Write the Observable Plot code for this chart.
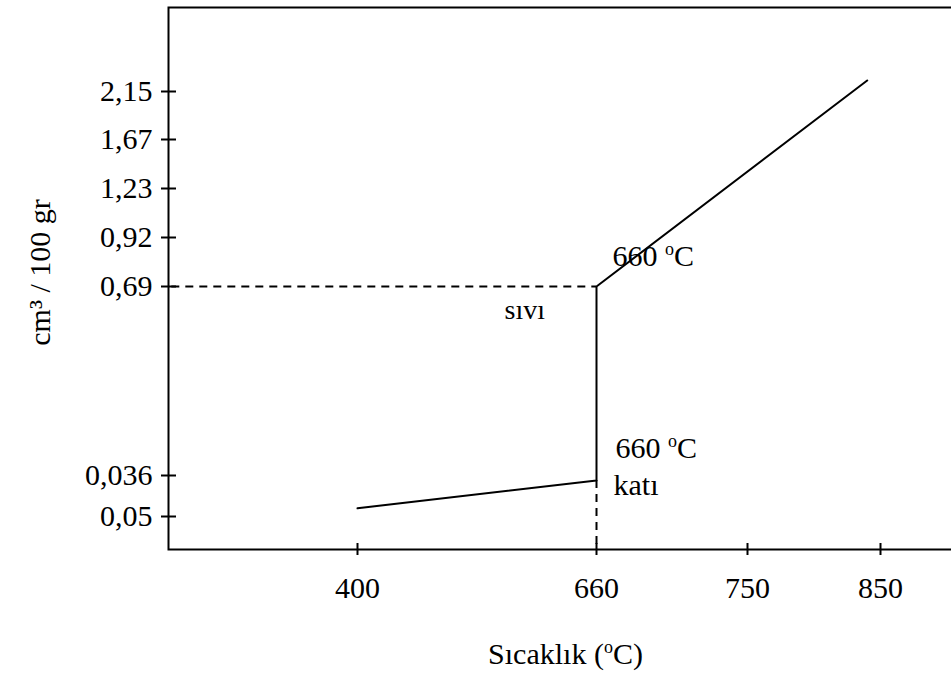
<!DOCTYPE html>
<html>
<head>
<meta charset="utf-8">
<script src="https://cdn.jsdelivr.net/npm/d3@7"></script>
<script src="https://cdn.jsdelivr.net/npm/@observablehq/plot@0.6"></script>
<style>
  html, body { margin: 0; padding: 0; background: #fff; overflow: hidden; }
</style>
</head>
<body>
<div id="chart"></div>
<script>
// ---- data ----
const xTicks = [400, 660, 750, 850];                       // Sıcaklık (°C)
const yTickLabels = ["0,05", "0,036", "0,69", "0,92", "1,23", "1,67", "2,15"];
const yTickLevels = [0, 1, 2, 3, 4, 5, 6];                 // schematic axis level of each label
const curveTemp = [400, 660, 660, 840];
const curveLevel = [0.2, 0.88, 2, 6.23];
const meltTemp = 660;
const liquidLevel = 2;    // 0,69
const solidLevel = 0.88;  // top of solid segment
const annotationText = ["660 °C", "sıvı", "660 °C", "katı"];
const annotationTemp = [660, 660, 660, 660];
const annotationLevel = [2, 2, 0.88, 0.88];
const xTitle = "Sıcaklık (°C)";
const yTitle = "cm³ / 100 gr";

const curve = curveTemp.map((t, i) => ({t, v: curveLevel[i]}));
const ann = annotationText.map((s, i) => ({s, t: annotationTemp[i], v: annotationLevel[i]}));

const chart = Plot.plot({
  width: 951,
  height: 679,
  marginLeft: 168,
  marginTop: 7,
  marginBottom: 130,
  marginRight: -3,
  style: {fontFamily: "'Liberation Serif', 'Times New Roman', serif", fontSize: "30px", background: "white", color: "black"},
  x: {type: "linear", domain: xTicks, range: [357, 596, 747, 880]},
  y: {type: "linear", domain: yTickLevels, range: [516, 475, 286, 237, 188, 139, 91]},
  marks: [
    Plot.frame({strokeWidth: 2}),
    Plot.axisY({ticks: yTickLevels, tickSize: 15, dx: 8, tickFormat: () => "", strokeWidth: 2, label: null}),
    Plot.axisY({ticks: yTickLevels, tickSize: 0, tickPadding: 16, tickFormat: i => yTickLabels[i], label: null}),
    Plot.axisX({ticks: xTicks, tickSize: 12, dy: -6, tickFormat: () => "", strokeWidth: 2, label: null}),
    Plot.axisX({ticks: xTicks, tickSize: 0, tickPadding: 27, tickFormat: d => String(d), label: null}),
    Plot.ruleY([liquidLevel], {x1: 0, x2: meltTemp, strokeDasharray: "8,6", strokeWidth: 2, clip: "frame"}),
    Plot.ruleX([meltTemp], {y1: solidLevel, y2: -10, strokeDasharray: "8,6", strokeWidth: 2, clip: "frame"}),
    Plot.line(curve, {x: "t", y: "v", strokeWidth: 2, stroke: "black"}),
    Plot.text(ann.slice(0, 1), {x: "t", y: "v", text: "s", textAnchor: "start", dx: 16, dy: -30}),
    Plot.text(ann.slice(1, 2), {x: "t", y: "v", text: "s", textAnchor: "start", dx: -92, dy: 24, fontSize: 28}),
    Plot.text(ann.slice(2, 3), {x: "t", y: "v", text: "s", textAnchor: "start", dx: 19, dy: -32}),
    Plot.text(ann.slice(3, 4), {x: "t", y: "v", text: "s", textAnchor: "start", dx: 17, dy: 5}),
    Plot.text([xTitle], {text: d => d, frameAnchor: "bottom", textAnchor: "middle", lineAnchor: "top", dx: 4, dy: 93}),
    Plot.text([yTitle], {text: d => d, frameAnchor: "left", textAnchor: "middle", rotate: -90, dx: -128, dy: -6})
  ]
});

// superscript "o" in place of the degree sign, as in the reference
const ns = "http://www.w3.org/2000/svg";
chart.querySelectorAll("text").forEach(t => {
  if (t.children.length === 0 && t.textContent.includes("°")) {
    const [a, b] = t.textContent.split("°");
    t.textContent = a;
    const sup = document.createElementNS(ns, "tspan");
    sup.setAttribute("font-size", "18");
    sup.setAttribute("dy", "-11");
    sup.textContent = "o";
    const rest = document.createElementNS(ns, "tspan");
    rest.setAttribute("dy", "11");
    rest.textContent = b;
    t.appendChild(sup);
    t.appendChild(rest);
  }
});

document.getElementById("chart").appendChild(chart);
</script>
</body>
</html>
